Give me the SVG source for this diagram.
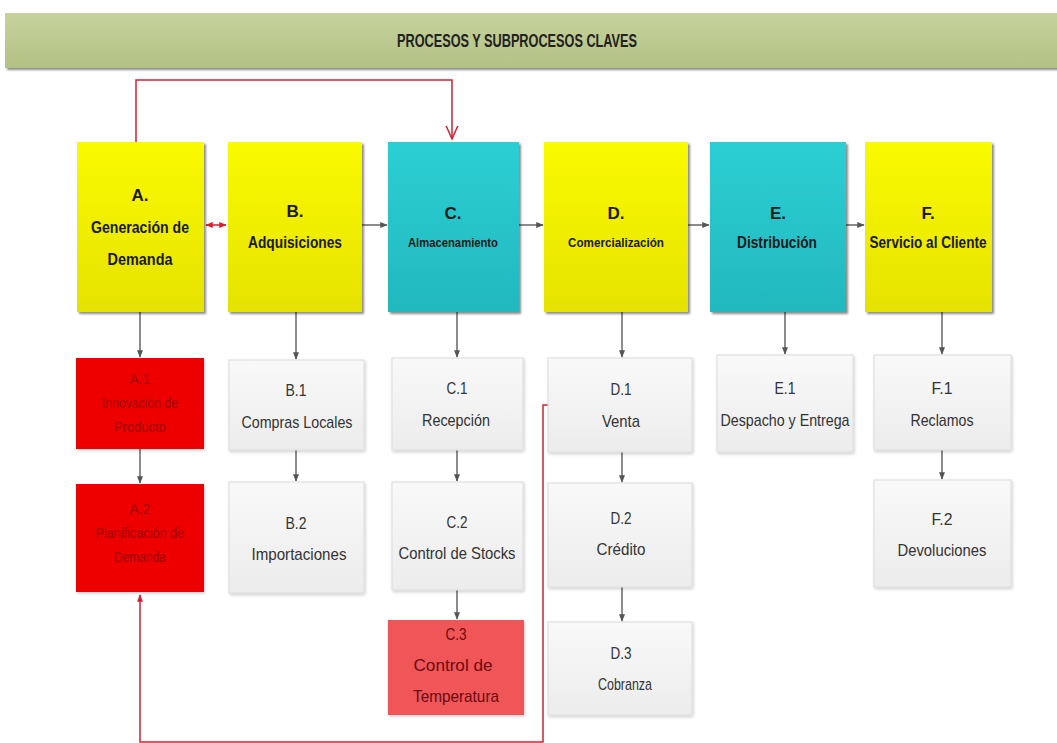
<svg xmlns="http://www.w3.org/2000/svg" width="1057" height="743" viewBox="0 0 1057 743">
<defs>
<linearGradient id="gY" x1="0" y1="0" x2="0" y2="1"><stop offset="0" stop-color="#fafa00"/><stop offset="1" stop-color="#e6e200"/></linearGradient>
<linearGradient id="gC" x1="0" y1="0" x2="0" y2="1"><stop offset="0" stop-color="#2ccfd4"/><stop offset="1" stop-color="#22b8be"/></linearGradient>
<linearGradient id="gG" x1="0" y1="0" x2="0" y2="1"><stop offset="0" stop-color="#f9f9f9"/><stop offset="1" stop-color="#ececec"/></linearGradient>
<linearGradient id="gH" x1="0" y1="0" x2="0" y2="1"><stop offset="0" stop-color="#c6d29c"/><stop offset="1" stop-color="#b3c184"/></linearGradient>
<filter id="sh" x="-10%" y="-10%" width="125%" height="125%"><feDropShadow dx="2" dy="2" stdDeviation="1.2" flood-color="#000" flood-opacity="0.45"/></filter>
<filter id="sl" x="-10%" y="-10%" width="125%" height="125%"><feDropShadow dx="1" dy="1.5" stdDeviation="1.5" flood-color="#000" flood-opacity="0.2"/></filter>
<marker id="ag" viewBox="0 0 10 10" refX="9" refY="5" markerWidth="5" markerHeight="5" orient="auto-start-reverse"><path d="M0,1 L10,5 L0,9 z" fill="#555"/></marker>
<marker id="ar" viewBox="0 0 10 10" refX="9" refY="5" markerWidth="5" markerHeight="5" orient="auto-start-reverse"><path d="M0,1 L10,5 L0,9 z" fill="#d42030"/></marker>
<marker id="av" viewBox="0 0 10 10" refX="9" refY="5" markerWidth="10" markerHeight="10" orient="auto"><path d="M0,1 L9,5 L0,9" fill="none" stroke="#d42030" stroke-width="1"/></marker>
</defs>
<style>
text{font-family:"Liberation Sans",Arial,sans-serif;text-anchor:middle}
.m{font-weight:bold;font-size:17px;fill:#1a1a1a}
.ms{font-weight:bold;font-size:13px;fill:#1a1a1a}
.s{font-size:17px;fill:#333}
.rt{font-size:14px;fill:#a00000}
.c3{font-size:17px;fill:#6a0a10}
.y{fill:url(#gY);filter:url(#sh)}
.cy{fill:url(#gC);filter:url(#sh)}
.g{fill:url(#gG);stroke:#dcdcdc;stroke-width:1;filter:url(#sl)}
.r{fill:#ee0000;filter:url(#sl)}
.cl{stroke:#666;stroke-width:1.5;fill:none;marker-end:url(#ag)}
.rl{stroke:#d42030;stroke-width:1.5;fill:none}
</style>
<g id="header">
<rect x="5" y="13" width="1052" height="55" fill="url(#gH)" filter="url(#sh)"/>
<text x="517" y="47" textLength="240" lengthAdjust="spacingAndGlyphs" style="font-weight:bold;font-size:18px;fill:#222">PROCESOS Y SUBPROCESOS CLAVES</text>
</g>
<g id="connectors">
<path class="rl" d="M136,142 V80 H452 V139" marker-end="url(#av)"/>
<line class="rl" x1="206" y1="225" x2="226" y2="225" marker-start="url(#ar)" marker-end="url(#ar)"/>
<line class="cl" x1="362" y1="225" x2="387" y2="225"/>
<line class="cl" x1="519" y1="225" x2="543" y2="225"/>
<line class="cl" x1="688" y1="225" x2="709" y2="225"/>
<line class="cl" x1="846" y1="225" x2="864" y2="225"/>
<line class="cl" x1="140" y1="312" x2="140" y2="357"/>
<line class="cl" x1="140" y1="449" x2="140" y2="483"/>
<line class="cl" x1="296" y1="312" x2="296" y2="359"/>
<line class="cl" x1="296" y1="450" x2="296" y2="481"/>
<line class="cl" x1="457" y1="312" x2="457" y2="357"/>
<line class="cl" x1="457" y1="450" x2="457" y2="481"/>
<line class="cl" x1="457" y1="590" x2="457" y2="619"/>
<line class="cl" x1="622" y1="312" x2="622" y2="357"/>
<line class="cl" x1="622" y1="452" x2="622" y2="482"/>
<line class="cl" x1="622" y1="587" x2="622" y2="621"/>
<line class="cl" x1="785" y1="312" x2="785" y2="354"/>
<line class="cl" x1="942" y1="312" x2="942" y2="354"/>
<line class="cl" x1="942" y1="450" x2="942" y2="479"/>
<path class="rl" d="M548,405 H543 V742 H140 V595" marker-end="url(#ar)"/>
</g>
<g id="A"><rect class="y" x="77" y="142" width="127" height="170"/><text class="m" x="140" y="201">A.</text><text class="m" x="140" y="233" textLength="98" lengthAdjust="spacingAndGlyphs">Generación de</text><text class="m" x="140" y="265" textLength="65" lengthAdjust="spacingAndGlyphs">Demanda</text></g>
<g id="B"><rect class="y" x="228" y="142" width="134" height="170"/><text class="m" x="295" y="217">B.</text><text class="m" x="295" y="248" textLength="94" lengthAdjust="spacingAndGlyphs">Adquisiciones</text></g>
<g id="C"><rect class="cy" x="388" y="142" width="131" height="170"/><text class="m" x="453" y="219">C.</text><text class="ms" x="453" y="247" textLength="90" lengthAdjust="spacingAndGlyphs">Almacenamiento</text></g>
<g id="D"><rect class="y" x="544" y="142" width="144" height="170"/><text class="m" x="616" y="219">D.</text><text class="ms" x="616" y="247" textLength="96" lengthAdjust="spacingAndGlyphs">Comercialización</text></g>
<g id="E"><rect class="cy" x="710" y="142" width="136" height="170"/><text class="m" x="778" y="219">E.</text><text class="m" x="777" y="248" textLength="80" lengthAdjust="spacingAndGlyphs">Distribución</text></g>
<g id="F"><rect class="y" x="865" y="142" width="127" height="170"/><text class="m" x="928" y="219">F.</text><text class="m" x="928" y="248" textLength="117" lengthAdjust="spacingAndGlyphs">Servicio al Cliente</text></g>
<g id="A1"><rect class="r" x="76" y="358" width="128" height="91"/><text class="rt" x="140" y="384">A.1</text><text class="rt" x="140" y="408" textLength="76" lengthAdjust="spacingAndGlyphs">Innovación de</text><text class="rt" x="140" y="432" textLength="52" lengthAdjust="spacingAndGlyphs">Producto</text></g>
<g id="A2"><rect class="r" x="76" y="484" width="128" height="108"/><text class="rt" x="140" y="514">A.2</text><text class="rt" x="140" y="538" textLength="89" lengthAdjust="spacingAndGlyphs">Planificación de</text><text class="rt" x="140" y="562" textLength="52" lengthAdjust="spacingAndGlyphs">Demanda</text></g>
<g id="B1"><rect class="g" x="229" y="360" width="135" height="90"/><text class="s" x="296" y="396" textLength="21" lengthAdjust="spacingAndGlyphs">B.1</text><text class="s" x="297" y="428" textLength="111" lengthAdjust="spacingAndGlyphs">Compras Locales</text></g>
<g id="B2"><rect class="g" x="229" y="482" width="135" height="111"/><text class="s" x="296" y="529" textLength="21" lengthAdjust="spacingAndGlyphs">B.2</text><text class="s" x="299" y="560" textLength="95" lengthAdjust="spacingAndGlyphs">Importaciones</text></g>
<g id="C1"><rect class="g" x="392" y="358" width="131" height="92"/><text class="s" x="457" y="394" textLength="21" lengthAdjust="spacingAndGlyphs">C.1</text><text class="s" x="456" y="426" textLength="68" lengthAdjust="spacingAndGlyphs">Recepción</text></g>
<g id="C2"><rect class="g" x="392" y="482" width="131" height="108"/><text class="s" x="457" y="528" textLength="21" lengthAdjust="spacingAndGlyphs">C.2</text><text class="s" x="457" y="559" textLength="117" lengthAdjust="spacingAndGlyphs">Control de Stocks</text></g>
<g id="C3"><rect x="388" y="620" width="136" height="95" fill="#f05558" filter="url(#sl)"/><text class="c3" x="456" y="640" textLength="21" lengthAdjust="spacingAndGlyphs">C.3</text><text class="c3" x="453" y="671" textLength="79" lengthAdjust="spacingAndGlyphs">Control de</text><text class="c3" x="456" y="702" textLength="86" lengthAdjust="spacingAndGlyphs">Temperatura</text></g>
<g id="D1"><rect class="g" x="548" y="358" width="144" height="94"/><text class="s" x="621" y="395" textLength="21" lengthAdjust="spacingAndGlyphs">D.1</text><text class="s" x="621" y="427" textLength="38" lengthAdjust="spacingAndGlyphs">Venta</text></g>
<g id="D2"><rect class="g" x="548" y="483" width="144" height="104"/><text class="s" x="621" y="524" textLength="21" lengthAdjust="spacingAndGlyphs">D.2</text><text class="s" x="621" y="555" textLength="49" lengthAdjust="spacingAndGlyphs">Crédito</text></g>
<g id="D3"><rect class="g" x="548" y="622" width="144" height="93"/><text class="s" x="621" y="659" textLength="21" lengthAdjust="spacingAndGlyphs">D.3</text><text class="s" x="625" y="690" textLength="54" lengthAdjust="spacingAndGlyphs">Cobranza</text></g>
<g id="E1"><rect class="g" x="717" y="355" width="136" height="97"/><text class="s" x="785" y="394" textLength="21" lengthAdjust="spacingAndGlyphs">E.1</text><text class="s" x="785" y="426" textLength="129" lengthAdjust="spacingAndGlyphs">Despacho y Entrega</text></g>
<g id="F1"><rect class="g" x="874" y="355" width="137" height="95"/><text class="s" x="942" y="394" textLength="21" lengthAdjust="spacingAndGlyphs">F.1</text><text class="s" x="942" y="426" textLength="63" lengthAdjust="spacingAndGlyphs">Reclamos</text></g>
<g id="F2"><rect class="g" x="874" y="480" width="137" height="107"/><text class="s" x="942" y="525" textLength="21" lengthAdjust="spacingAndGlyphs">F.2</text><text class="s" x="942" y="556" textLength="89" lengthAdjust="spacingAndGlyphs">Devoluciones</text></g>
</svg>
